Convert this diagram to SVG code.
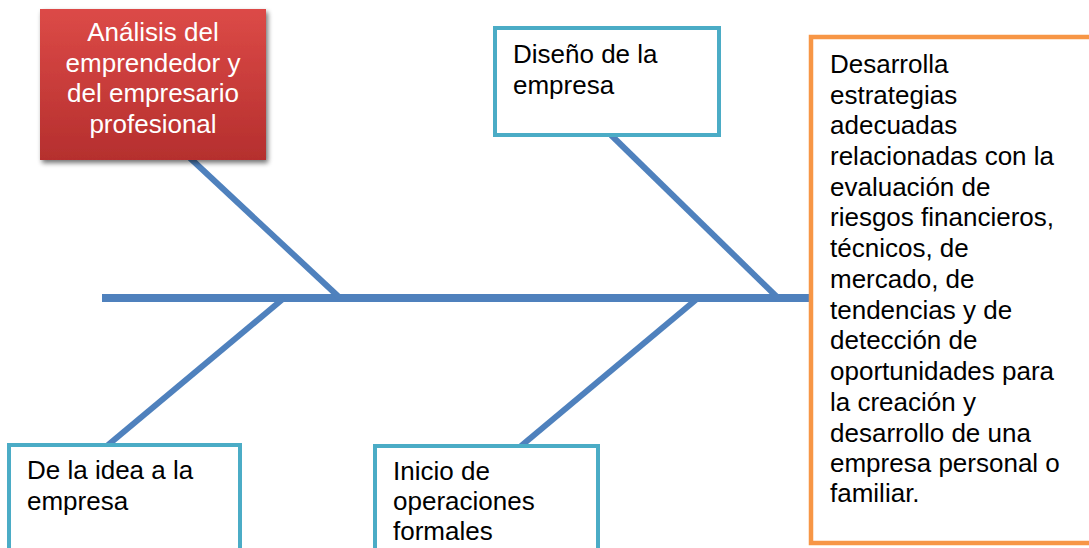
<svg xmlns="http://www.w3.org/2000/svg" width="1089" height="548" viewBox="0 0 1089 548">
<defs>
<linearGradient id="redGrad" x1="0" y1="0" x2="0" y2="1">
<stop offset="0" stop-color="#dc4a47"/>
<stop offset="1" stop-color="#b52f2e"/>
</linearGradient>
<filter id="shadow" x="-10%" y="-10%" width="125%" height="130%">
<feGaussianBlur in="SourceAlpha" stdDeviation="2.5"/>
<feOffset dx="2" dy="3" result="b"/>
<feComponentTransfer><feFuncA type="linear" slope="0.55"/></feComponentTransfer>
<feMerge><feMergeNode/><feMergeNode in="SourceGraphic"/></feMerge>
</filter>
</defs>
<style>
text { font-family: "Liberation Sans", Arial, sans-serif; font-size: 26px; fill: #000; }
.white { fill: #fff; text-anchor: middle; }
.bone { stroke: #4f81bd; stroke-width: 6; fill: none; }
.spine { stroke: #4f81bd; stroke-width: 8; fill: none; }
.blue { fill: #fff; stroke: #4bacc6; stroke-width: 4; }
.orange { fill: #fff; stroke: #f79646; stroke-width: 4.5; }
</style>
<rect width="1089" height="548" fill="#fff"/>
<g id="connectors">
<line class="spine" x1="102" y1="298" x2="812" y2="298"/>
<line class="bone" x1="190" y1="158" x2="340" y2="298"/>
<line class="bone" x1="611" y1="135" x2="778" y2="298"/>
<line class="bone" x1="284" y1="298" x2="108" y2="445"/>
<line class="bone" x1="698" y1="298" x2="521" y2="446"/>
</g>
<g id="node-analisis">
<rect x="40" y="9" width="226" height="151" fill="url(#redGrad)" filter="url(#shadow)"/>
<text class="white" x="153" y="41">Análisis del</text>
<text class="white" x="153" y="72">emprendedor y</text>
<text class="white" x="153" y="102">del empresario</text>
<text class="white" x="153" y="133">profesional</text>
</g>
<g id="node-diseno">
<rect class="blue" x="495" y="28" width="224" height="107"/>
<text x="513" y="63">Diseño de la</text>
<text x="513" y="94">empresa</text>
</g>
<g id="node-desarrolla">
<rect class="orange" x="811" y="37" width="290" height="506"/>
<text x="830" y="73">Desarrolla</text>
<text x="830" y="104">estrategias</text>
<text x="830" y="134">adecuadas</text>
<text x="830" y="165">relacionadas con la</text>
<text x="830" y="196">evaluación de</text>
<text x="830" y="226">riesgos financieros,</text>
<text x="830" y="257">técnicos, de</text>
<text x="830" y="288">mercado, de</text>
<text x="830" y="319">tendencias y de</text>
<text x="830" y="349">detección de</text>
<text x="830" y="380">oportunidades para</text>
<text x="830" y="411">la creación y</text>
<text x="830" y="442">desarrollo de una</text>
<text x="830" y="472">empresa personal o</text>
<text x="830" y="502">familiar.</text>
</g>
<g id="node-idea">
<rect class="blue" x="9" y="445" width="231" height="120"/>
<text x="27" y="479">De la idea a la</text>
<text x="27" y="510">empresa</text>
</g>
<g id="node-inicio">
<rect class="blue" x="375" y="446" width="223" height="120"/>
<text x="393" y="480">Inicio de</text>
<text x="393" y="510">operaciones</text>
<text x="393" y="540">formales</text>
</g>
</svg>
